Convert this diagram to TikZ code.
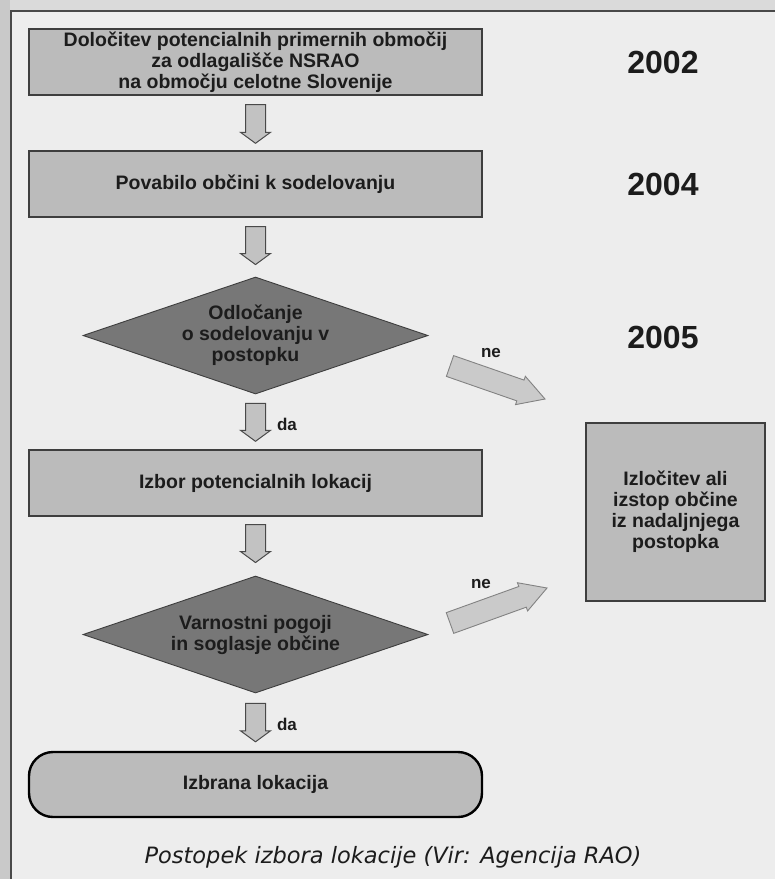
\documentclass[tikz,border=0pt]{standalone}
\usepackage{fontspec}
\setmainfont{Liberation Sans}
\newfontfamily\capfont{DejaVu Sans}
\usetikzlibrary{calc,shapes.geometric}
\definecolor{bgc}{HTML}{EDEDED}
\definecolor{stripc}{HTML}{C9C9C9}
\definecolor{topc}{HTML}{DADADA}
\definecolor{boxc}{HTML}{BBBBBB}
\definecolor{diac}{HTML}{777777}
\definecolor{arrc}{HTML}{C2C2C2}
\definecolor{nearrc}{HTML}{CACACA}
\definecolor{inkc}{HTML}{1C1C1C}
\tikzset{
  boxtext/.style={font=\fontsize{19.5}{21}\selectfont\bfseries, text=inkc, align=center},
  procbox/.style={boxtext, draw=inkc!85, line width=1.4pt, fill=boxc, minimum width=453pt, minimum height=66pt, inner sep=0pt},
  decision/.style={boxtext, diamond, aspect=2.95, draw=inkc!85, line width=0.9pt, fill=diac, minimum width=345pt, minimum height=117pt, inner sep=0pt},
  endbox/.style={boxtext, draw=black, line width=2.4pt, fill=boxc, rounded corners=24pt, minimum width=453pt, minimum height=65pt, inner sep=0pt},
  yeartext/.style={font=\fontsize{32}{36}\selectfont\bfseries, text=inkc},
  smalltext/.style={font=\fontsize{17}{19}\selectfont\bfseries, text=inkc},
  barrow/.style args={#1/#2/#3}{to path={let \p1=(\tikztostart), \p2=(\tikztotarget),
      \n1={atan2(\y2-\y1,\x2-\x1)}, \n2={veclen(\x2-\x1,\y2-\y1)} in
      ($(\p1)+(\n1+90:#1pt)$) -- ($(\p1)+(\n1:{\n2-#3pt})+(\n1+90:#1pt)$)
      -- ($(\p1)+(\n1:{\n2-#3pt})+(\n1+90:#2pt)$) -- (\p2)
      -- ($(\p1)+(\n1:{\n2-#3pt})+(\n1-90:#2pt)$) -- ($(\p1)+(\n1:{\n2-#3pt})+(\n1-90:#1pt)$)
      -- ($(\p1)+(\n1-90:#1pt)$) -- cycle}},
  downarrow/.style={barrow=10/15/11, fill=arrc, draw=inkc!80, line width=1pt},
  nearrow/.style={barrow=11/15/26, fill=nearrc, draw=inkc!55, line width=0.9pt}
}
\begin{document}
\begin{tikzpicture}[x=1pt,y=-1pt]
\useasboundingbox (0,0) rectangle (775,879);
\fill[bgc] (0,0) rectangle (775,879);
\fill[stripc] (0,0) rectangle (10,879);
\fill[topc] (10,0) rectangle (775,10);
\draw[inkc!80, line width=1.4pt] (11,879) -- (11,11) -- (775,11);

\node[procbox] (b1) at (255.5,62) {Določitev potencialnih primernih območij\\za odlagališče NSRAO\\na območju celotne Slovenije};
\node[procbox] (b2) at (255.5,184) {Povabilo občini k sodelovanju};
\node[decision] (d1) at (255.5,335.5) {Odločanje\\o sodelovanju v\\postopku};
\node[procbox] (b3) at (255.5,483) {Izbor potencialnih lokacij};
\node[decision] (d2) at (255.5,634.5) {Varnostni pogoji\\in soglasje občine};
\node[endbox] (b4) at (255.5,784.5) {Izbrana lokacija};
\node[procbox, minimum width=179pt, minimum height=178pt] (rb) at (675.5,512) {Izločitev ali\\izstop občine\\iz nadaljnjega\\postopka};

\node[yeartext] (y1) at (663,62) {2002};
\node[yeartext] (y2) at (663,184) {2004};
\node[yeartext] (y3) at (663,337) {2005};

\draw[downarrow] ($(b1.south)+(0,9)$) to ($(b2.north)+(0,-7)$);
\draw[downarrow] ($(b2.south)+(0,9)$) to ($(d1.north)+(0,-12)$);
\draw[downarrow] ($(d1.south)+(0,9)$) to ($(b3.north)+(0,-8)$);
\draw[downarrow] ($(b3.south)+(0,8)$) to ($(d2.north)+(0,-13)$);
\draw[downarrow] ($(d2.south)+(0,10)$) to ($(b4.north)+(0,-9)$);

\node[smalltext] (da1) at (287,424) {da};
\node[smalltext] (da2) at (287,724) {da};

\coordinate (n1s) at (450,366);
\coordinate (n1e) at (545,399);
\coordinate (n2s) at (450,623);
\coordinate (n2e) at (547,588);
\draw[nearrow] (n1s) to (n1e);
\draw[nearrow] (n2s) to (n2e);
\node[smalltext] (ne1) at (491,353) {ne};
\node[smalltext] (ne2) at (481,584) {ne};

\node[font=\capfont\itshape\fontsize{22.5}{26}\selectfont, text=inkc] (cap) at (393,857) {Postopek izbora lokacije (Vir: Agencija RAO)};
\end{tikzpicture}
\end{document}
